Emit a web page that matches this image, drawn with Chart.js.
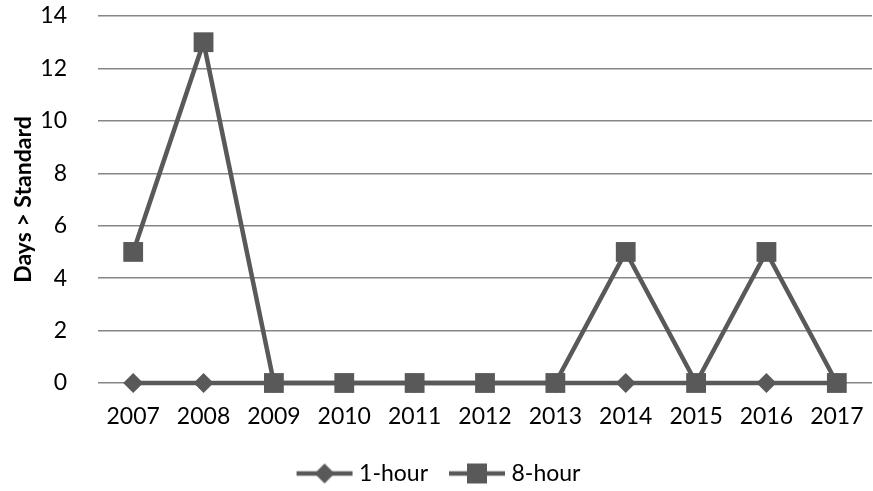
<!DOCTYPE html>
<html lang="en">
<head>
<meta charset="UTF-8">
<script src="https://cdn.jsdelivr.net/npm/chart.js"></script>
<title>Days > Standard</title>
<style>
  html, body { margin: 0; padding: 0; background: #fff; }
  .box { width: 873px; height: 491px; }
</style>
</head>
<body>
<div class="box"><canvas id="myChart"></canvas></div>
<script>
// data
const anos = ['2007', '2008', '2009', '2010', '2011', '2012', '2013', '2014', '2015', '2016', '2017'];
const umaHora = [0, 0, 0, 0, 0, 0, 0, 0, 0, 0, 0];
const oitoHoras = [5, 13, 0, 0, 0, 0, 0, 5, 0, 5, 0];
const yTicks = [0, 2, 4, 6, 8, 10, 12, 14];

const cinza = '#595959';
const fonte = 'Lato, "Open Sans", sans-serif';

// little line + marker picture for the legend
function iconeLegenda(tipo) {
    const c = document.createElement('canvas');
    c.width = 58; c.height = 22;
    const ctx = c.getContext('2d');
    ctx.strokeStyle = cinza;
    ctx.lineWidth = 4.5;
    ctx.beginPath();
    ctx.moveTo(1, 11); ctx.lineTo(57, 11);
    ctx.stroke();
    ctx.fillStyle = cinza;
    ctx.beginPath();
    if (tipo === 'rectRot') {
        ctx.moveTo(29, 1); ctx.lineTo(39, 11); ctx.lineTo(29, 21); ctx.lineTo(19, 11);
    } else {
        ctx.rect(19, 1, 20, 20);
    }
    ctx.closePath();
    ctx.fill();
    return c;
}

const dados = {
    labels: anos,
    datasets: [{
        label: '1-hour',
        data: umaHora,
        borderColor: cinza,
        backgroundColor: cinza,
        borderWidth: 4.5,
        pointStyle: 'rectRot',
        pointRadius: 10,
        pointBorderWidth: 0,
        tension: 0,
        clip: false,
        order: 2
    },
    {
        label: '8-hour',
        data: oitoHoras,
        borderColor: cinza,
        backgroundColor: cinza,
        borderWidth: 4.5,
        pointStyle: 'rect',
        pointRadius: 14,
        pointBorderWidth: 0,
        tension: 0,
        clip: false,
        order: 1
    }]
};

const icones = [iconeLegenda('rectRot'), iconeLegenda('rect')];

const config = {
    type: 'line',
    data: dados,
    options: {
        responsive: true,
        maintainAspectRatio: false,
        animation: false,
        layout: { autoPadding: false, padding: { top: 16, right: 1, left: 10, bottom: -4 } },
        plugins: {
            tooltip: { enabled: false },
            legend: {
                position: 'bottom',
                labels: {
                    usePointStyle: true,
                    pointStyleWidth: 46,
                    padding: 26,
                    color: '#000',
                    font: { family: fonte, size: 23 },
                    generateLabels: function (chart) {
                        return chart.data.datasets.map((ds, i) => ({
                            text: ds.label,
                            pointStyle: icones[i],
                            fillStyle: cinza,
                            strokeStyle: cinza,
                            lineWidth: 0,
                            hidden: false,
                            datasetIndex: i
                        }));
                    }
                }
            }
        },
        scales: {
            x: {
                offset: true,
                grid: { display: false, drawTicks: false },
                border: { display: false },
                ticks: { color: '#000', padding: 20, maxRotation: 0, font: { family: fonte, size: 23 } },
                afterFit: s => { s.height = 53; s.paddingLeft = 0; s.paddingRight = 0; }
            },
            y: {
                min: 0,
                max: 14,
                afterBuildTicks: s => { s.ticks = yTicks.map(v => ({ value: v })); },
                grid: { color: '#868686', lineWidth: 1.5, drawTicks: false },
                border: { display: false },
                ticks: { color: '#000', padding: 31, font: { family: fonte, size: 23 } },
                title: {
                    display: true,
                    text: 'Days > Standard',
                    color: '#000',
                    padding: { top: 0, bottom: 10 },
                    font: { family: fonte, size: 23, weight: 'bold' }
                },
                afterFit: s => { s.width = 88; s.paddingTop = 0; s.paddingBottom = 0; }
            }
        }
    }
};

let myChart = new Chart(document.getElementById('myChart'), config);
</script>
</body>
</html>
